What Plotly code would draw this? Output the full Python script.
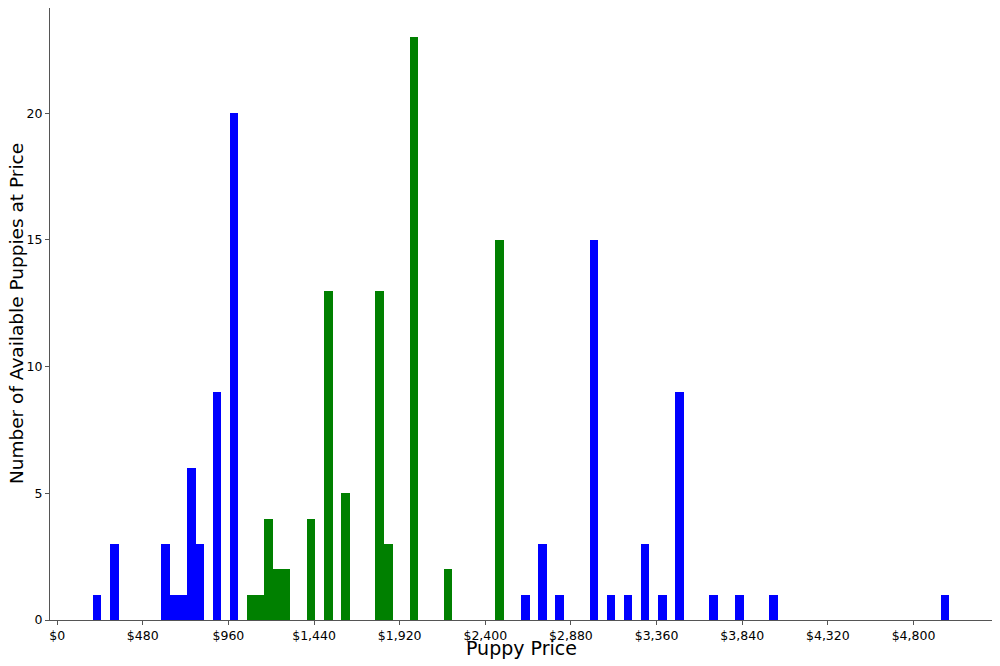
import plotly.graph_objects as go

# Histogram bins: $48 wide, starting at $200
bin_start = 200
bin_width = 48
bin_index = [0, 2, 8, 9, 10, 11, 12, 14, 16, 18, 19, 20, 21, 22, 25, 27, 29, 33, 34, 37,
             41, 47, 50, 52, 54, 58, 60, 62, 64, 66, 68, 72, 75, 79, 99]
counts = [1, 3, 3, 1, 1, 6, 3, 9, 20, 1, 1, 4, 2, 2, 4, 13, 5, 13, 3, 23,
          2, 15, 1, 3, 1, 15, 1, 1, 3, 1, 9, 1, 1, 1, 1]
group = ["blue", "blue", "blue", "blue", "blue", "blue", "blue", "blue", "blue",
         "green", "green", "green", "green", "green", "green", "green", "green",
         "green", "green", "green", "green", "green",
         "blue", "blue", "blue", "blue", "blue", "blue", "blue", "blue", "blue",
         "blue", "blue", "blue", "blue"]
tick_vals = [0, 480, 960, 1440, 1920, 2400, 2880, 3360, 3840, 4320, 4800]
tick_text = ["$0", "$480", "$960", "$1,440", "$1,920", "$2,400", "$2,880",
             "$3,360", "$3,840", "$4,320", "$4,800"]

color_map = {"blue": "#0000ff", "green": "#008000"}

fig = go.Figure()
for g in ["blue", "green"]:
    xs = [bin_start + bin_width * i + bin_width / 2 for i, gg in zip(bin_index, group) if gg == g]
    ys = [c for c, gg in zip(counts, group) if gg == g]
    fig.add_trace(go.Bar(x=xs, y=ys, width=bin_width, marker=dict(color=color_map[g], line=dict(width=0)),
                         showlegend=False))

font = "DejaVu Sans, sans-serif"
fig.update_layout(
    width=992, height=658,
    margin=dict(l=42, r=8, t=0, b=46),
    plot_bgcolor="white", paper_bgcolor="white",
    bargap=0, barmode="overlay",
    font=dict(family=font, color="black", size=12),
    xaxis=dict(range=[-40, 5240], tickvals=tick_vals, ticktext=tick_text, automargin=False,
               showgrid=False, zeroline=False, showline=True, linecolor="#555555", linewidth=1,
               ticks="outside", ticklen=4, tickcolor="#555555",
               tickfont=dict(size=12.5, family=font, color="black")),
    yaxis=dict(range=[0, 24.15], tickvals=[0, 5, 10, 15, 20], automargin=False,
               showgrid=False, zeroline=False, showline=True, linecolor="#555555", linewidth=1,
               ticks="outside", ticklen=4, tickcolor="#555555",
               tickfont=dict(size=12.5, family=font, color="black")),
    annotations=[
        dict(text="Puppy Price", xref="paper", yref="paper", x=0.5, y=-0.046,
             xanchor="center", yanchor="middle", showarrow=False,
             font=dict(size=19, family=font, color="black")),
        dict(text="Number of Available Puppies at Price", xref="paper", yref="paper",
             x=-0.036, y=0.5, xanchor="center", yanchor="middle", textangle=-90, showarrow=False,
             font=dict(size=18.5, family=font, color="black")),
    ],
)

fig.write_html("out.html")
